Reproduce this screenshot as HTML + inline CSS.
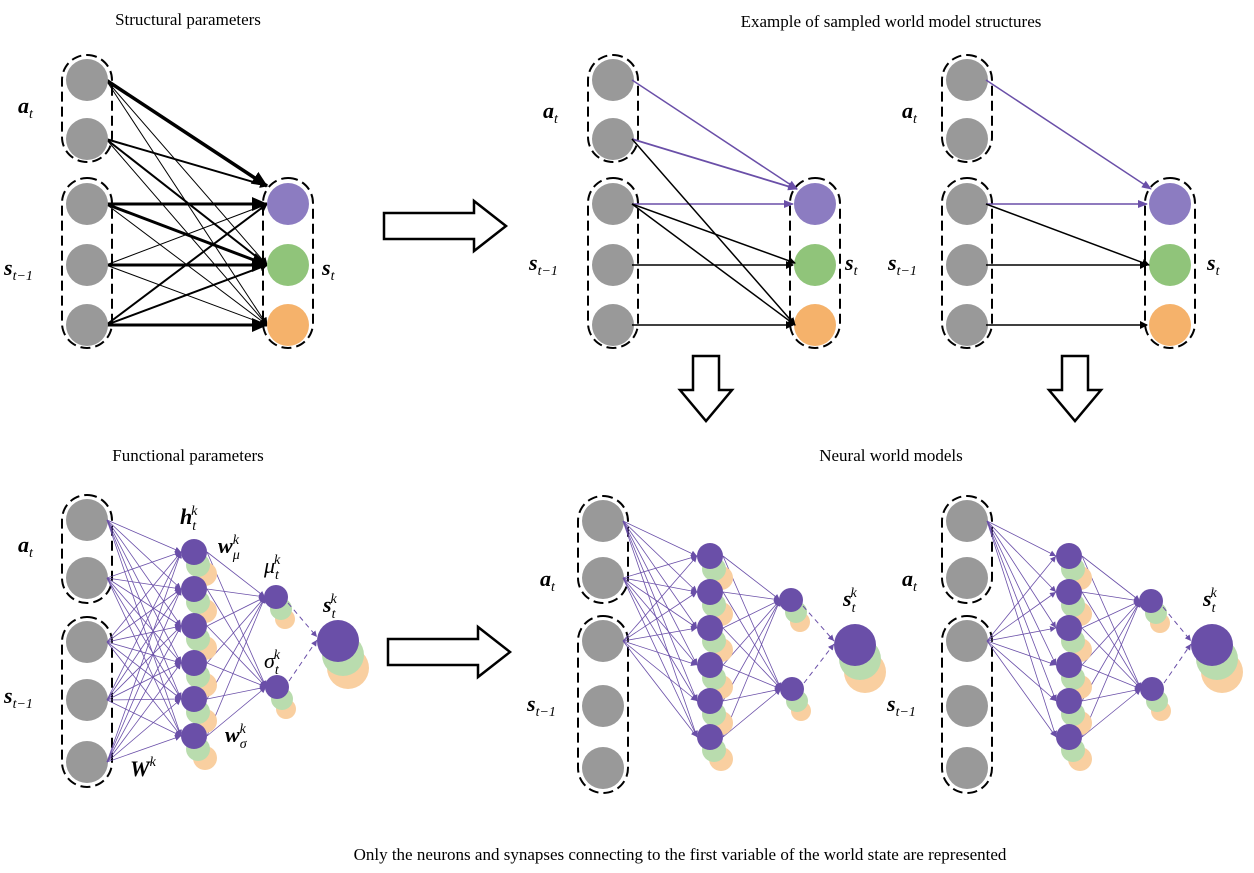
<!DOCTYPE html>
<html><head><meta charset="utf-8"><style>
body{margin:0;background:#fff}
svg{display:block}
text{font-family:"Liberation Serif",serif}
.t{font-size:17px}
.m{font-weight:bold;font-style:italic;font-size:22px}
.s{font-size:14px;font-style:italic;font-weight:normal}
</style></head><body>
<svg id="g" width="1254" height="873" viewBox="0 0 1254 873" xmlns="http://www.w3.org/2000/svg">
<defs>
<marker id="ab" markerWidth="8" markerHeight="8" refX="7" refY="4" orient="auto" markerUnits="userSpaceOnUse"><path d="M0,0L8,4L0,8z" fill="#000"/></marker>
<marker id="abL" markerWidth="16" markerHeight="14" refX="15" refY="7" orient="auto" markerUnits="userSpaceOnUse"><path d="M0,0L16,7L0,14z" fill="#000"/></marker>
<marker id="ap" markerWidth="10" markerHeight="8" refX="9" refY="4" orient="auto" markerUnits="userSpaceOnUse"><path d="M0,0L10,4L0,8z" fill="#6a4fa8"/></marker>
<marker id="aps" markerWidth="6" markerHeight="6" refX="6" refY="3" orient="auto" markerUnits="userSpaceOnUse"><path d="M0,0L6,3L0,6z" fill="#6a4fa8"/></marker>
</defs>
<g id="shapes"></g>
<text class="t" x="188" y="25" text-anchor="middle">Structural parameters</text>
<text class="t" x="891" y="27" text-anchor="middle">Example of sampled world model structures</text>
<text class="t" x="188" y="461" text-anchor="middle">Functional parameters</text>
<text class="t" x="891" y="461" text-anchor="middle">Neural world models</text>
<text class="t" x="680" y="860" text-anchor="middle">Only the neurons and synapses connecting to the first variable of the world state are represented</text>
<text class="m" x="18" y="113">a<tspan class="s" dy="5">t</tspan></text>
<text class="m" x="4" y="275">s<tspan class="s" dy="5">t−1</tspan></text>
<text class="m" x="322" y="275">s<tspan class="s" dy="5">t</tspan></text>
<text class="m" x="543" y="118">a<tspan class="s" dy="5">t</tspan></text>
<text class="m" x="529" y="270">s<tspan class="s" dy="5">t−1</tspan></text>
<text class="m" x="845" y="270">s<tspan class="s" dy="5">t</tspan></text>
<text class="m" x="902" y="118">a<tspan class="s" dy="5">t</tspan></text>
<text class="m" x="888" y="270">s<tspan class="s" dy="5">t−1</tspan></text>
<text class="m" x="1207" y="270">s<tspan class="s" dy="5">t</tspan></text>
<text class="m" x="18" y="552">a<tspan class="s" dy="5">t</tspan></text>
<text class="m" x="4" y="703">s<tspan class="s" dy="5">t−1</tspan></text>
<text class="m" x="180" y="524">h<tspan class="s" dy="6">t</tspan><tspan class="s" dx="-5" dy="-15">k</tspan></text>
<text class="m" x="218" y="553">w<tspan class="s" dy="6">μ</tspan><tspan class="s" dx="-7" dy="-15">k</tspan></text>
<text class="m" x="264" y="573" style="font-weight:normal">μ<tspan class="s" dy="6">t</tspan><tspan class="s" dx="-5" dy="-15">k</tspan></text>
<text class="m" x="264" y="668" style="font-weight:normal">σ<tspan class="s" dy="6">t</tspan><tspan class="s" dx="-5" dy="-15">k</tspan></text>
<text class="m" x="323" y="612">s<tspan class="s" dy="6">t</tspan><tspan class="s" dx="-5" dy="-15">k</tspan></text>
<text class="m" x="225" y="742">w<tspan class="s" dy="6">σ</tspan><tspan class="s" dx="-7" dy="-15">k</tspan></text>
<text class="m" x="130" y="776">W<tspan class="s" dy="-10">k</tspan></text>
<text class="m" x="540" y="586">a<tspan class="s" dy="5">t</tspan></text>
<text class="m" x="527" y="711">s<tspan class="s" dy="5">t−1</tspan></text>
<text class="m" x="843" y="606">s<tspan class="s" dy="6">t</tspan><tspan class="s" dx="-5" dy="-15">k</tspan></text>
<text class="m" x="902" y="586">a<tspan class="s" dy="5">t</tspan></text>
<text class="m" x="887" y="711">s<tspan class="s" dy="5">t−1</tspan></text>
<text class="m" x="1203" y="606">s<tspan class="s" dy="6">t</tspan><tspan class="s" dx="-5" dy="-15">k</tspan></text>
</svg>
<script>
var G=document.getElementById('shapes'),NS='http://www.w3.org/2000/svg';
function el(t,a){var e=document.createElementNS(NS,t);for(var k in a)e.setAttribute(k,a[k]);G.appendChild(e);return e;}
function circ(x,y,r,f){el('circle',{cx:x,cy:y,r:r,fill:f});}
function box(x,y1,y2){el('rect',{x:x-25,y:y1,width:50,height:y2-y1,rx:25,ry:25,fill:'none',stroke:'#000','stroke-width':2,'stroke-dasharray':'10,5'});}
function line(x1,y1,x2,y2,c,w,m,d){var a={x1:x1,y1:y1,x2:x2,y2:y2,stroke:c,'stroke-width':w};if(m)a['marker-end']='url(#'+m+')';if(d)a['stroke-dasharray']=d;el('line',a);}
var GR='#999',P='#8c7cc1',GN='#90c47a',OR='#f5b26b',PD='#6a4fa8',LG='#b9dcae',LO='#f9cfa0';
var TY=[80,139,204,265,325],OY=[204,265,325];
var tl=[[0,0,3.5],[0,1,1],[0,2,1],[1,0,2],[1,1,2],[1,2,1],[2,0,3],[2,1,3],[2,2,1],[3,0,1],[3,1,3],[3,2,1],[4,0,2],[4,1,2],[4,2,3]];
tl.forEach(function(e){line(106,TY[e[0]],267,OY[e[1]]-(e[0]<2&&e[1]==0?18:0),'#000',e[2],e[2]>=3?'abL':'ab');});
function topPanel(ix,ox){
 box(ix,55,162);box(ix,178,348);box(ox,178,348);
 TY.forEach(function(y){circ(ix,y,21,GR);});
 circ(ox,204,21,P);circ(ox,265,21,GN);circ(ox,325,21,OR);
}
topPanel(87,288);topPanel(613,815);topPanel(967,1170);
line(632,80,797,189,PD,1.5,'ap');line(632,139,797,189,PD,1.8,'ap');line(632,204,793,204,PD,1.5,'ap');
line(632,139,795,325,'#000',1.5,'ab');line(632,204,795,263,'#000',1.5,'ab');line(632,204,795,325,'#000',1.5,'ab');
line(632,265,793,265,'#000',1.5,'ab');line(632,325,793,325,'#000',1.5,'ab');
line(986,80,1151,189,PD,1.5,'ap');line(986,204,1147,204,PD,1.5,'ap');
line(986,204,1149,265,'#000',1.5,'ab');line(986,265,1147,265,'#000',1.5,'ab');line(986,325,1147,325,'#000',1.5,'ab');
function rarrow(x,y){el('path',{d:'M'+x+','+(y-13)+'h90v-12l32,25l-32,25v-12h-90z',fill:'#fff',stroke:'#000','stroke-width':2.5});}
function darrow(x,y){el('path',{d:'M'+(x-13)+','+y+'v34h-13l26,31l26,-31h-13v-34z',fill:'#fff',stroke:'#000','stroke-width':2.5});}
rarrow(384,226);rarrow(388,652);darrow(706,356);darrow(1075,356);
function bot(ix,IY,hx,HY,mu,sg,out,used,hr){
 box(ix,IY[0]-25,IY[1]+25);box(ix,IY[2]-25,IY[4]+25);
 IY.forEach(function(y){circ(ix,y,21,GR);});
 used.forEach(function(i){HY.forEach(function(h){line(ix+20,IY[i],hx-hr,h,PD,0.8,'aps');});});
 HY.forEach(function(h){[mu,sg].forEach(function(m){line(hx+hr,h,m[0]-11,m[1],PD,0.8,'aps');});});
 HY.slice().reverse().forEach(function(h){circ(hx+11,h+22,12,LO);circ(hx+4,h+13,12,LG);});
 HY.forEach(function(h){circ(hx,h,hr,PD);});
 [mu,sg].forEach(function(m){circ(m[0]+9,m[1]+22,10,LO);circ(m[0]+5,m[1]+12,11,LG);circ(m[0],m[1],12,PD);});
 circ(out[0]+10,out[1]+27,21,LO);circ(out[0]+5,out[1]+14,21,LG);circ(out[0],out[1],21,PD);
 line(mu[0]+12,mu[1]+6,out[0]-21,out[1]-4,PD,1,'aps','5,4');line(sg[0]+12,sg[1]-6,out[0]-21,out[1]-1,PD,1,'aps','5,4');
}
bot(87,[520,578,642,700,762],194,[552,589,626,663,699,736],[276,597],[277,687],[338,641],[0,1,2,3,4],13);
bot(603,[521,578,641,706,768],710,[556,592,628,665,701,737],[791,600],[792,689],[855,645],[0,1,2],13);
bot(967,[521,578,641,706,768],1069,[556,592,628,665,701,737],[1151,601],[1152,689],[1212,645],[0,2],13);
</script>
</body></html>
